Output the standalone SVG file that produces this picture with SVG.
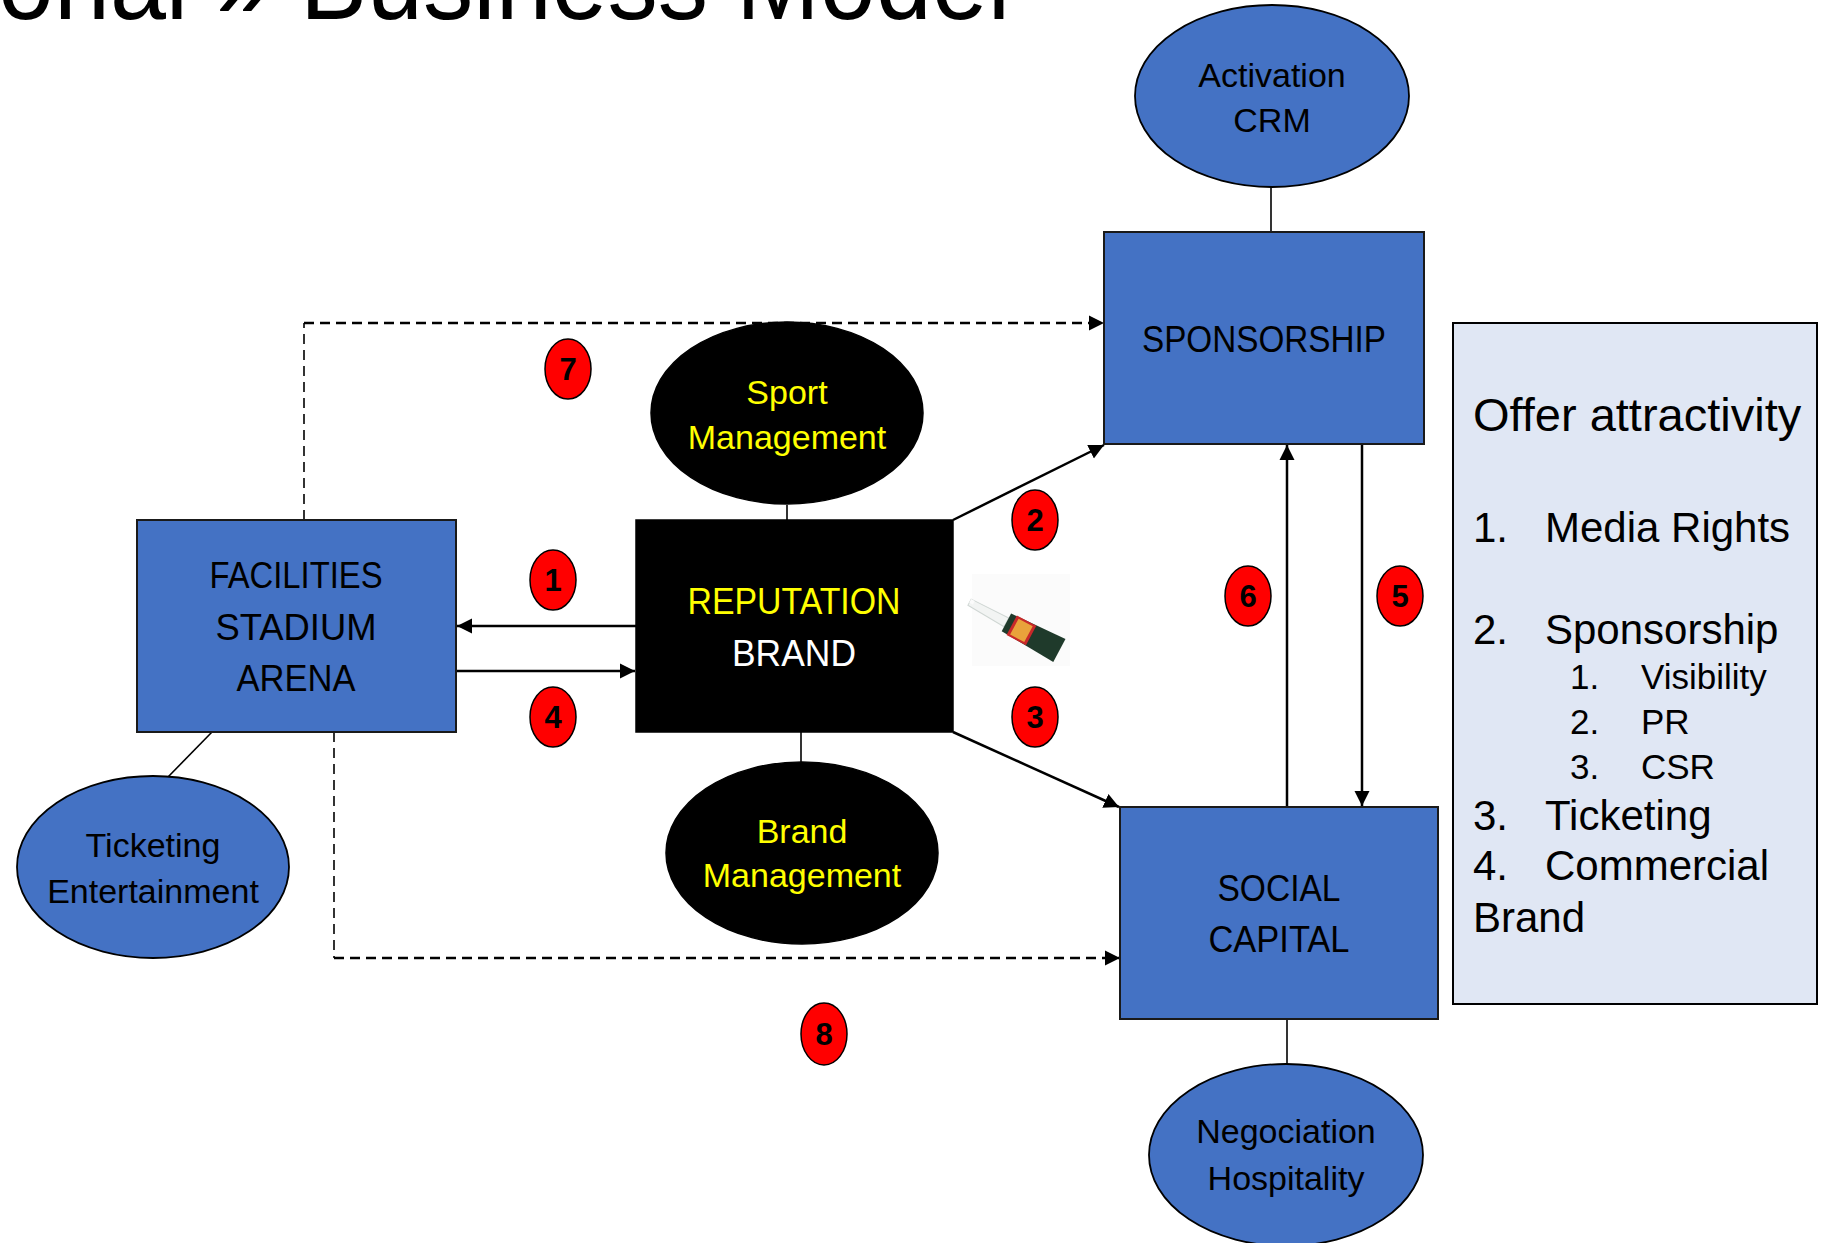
<svg xmlns="http://www.w3.org/2000/svg" width="1830" height="1243" viewBox="0 0 1830 1243">
<defs>
<marker id="ah" markerUnits="userSpaceOnUse" markerWidth="16" markerHeight="16" viewBox="0 0 16 16" refX="15" refY="8" orient="auto">
<path d="M0,0.5 L15,8 L0,15.5 z" fill="#000"/>
</marker>
</defs>
<style>
text{font-family:"Liberation Sans",Arial,sans-serif;}
.box{fill:#4472C4;stroke:#1a1a1a;stroke-width:2;}
.oval{fill:#4472C4;stroke:#000;stroke-width:1.8;}
.black{fill:#000;stroke:#000;stroke-width:1.5;}
.t34{font-size:34px;text-anchor:middle;fill:#000;}
.y34{font-size:34px;text-anchor:middle;fill:#FFFF00;}
.t36{font-size:36px;text-anchor:middle;fill:#000;}
.y36{font-size:36px;text-anchor:middle;fill:#FFFF00;}
.w36{font-size:36px;text-anchor:middle;fill:#FFFFFF;}
.badge ellipse{fill:#FF0000;stroke:#000;stroke-width:1.5;}
.badge text{font-size:31px;font-weight:bold;text-anchor:middle;fill:#000;}
.conn{stroke:#000;stroke-width:2.5;fill:none;}
.thin{stroke:#000;stroke-width:1.6;fill:none;}
.dash{stroke:#000;stroke-width:2.5;fill:none;stroke-dasharray:10 6;}
.dashv{stroke:#000;stroke-width:1.6;fill:none;stroke-dasharray:10 6;}
.lst{fill:#000;}
</style>
<rect width="1830" height="1243" fill="#fff"/>

<text x="-2" y="19" font-size="112" textLength="1012" lengthAdjust="spacingAndGlyphs" fill="#000">onal » Business Model</text>

<g id="connectors">
<line class="thin" x1="1271" y1="187" x2="1271" y2="232"/>
<line class="thin" x1="1287" y1="1019" x2="1287" y2="1064"/>
<line class="thin" x1="787" y1="505" x2="787" y2="520"/>
<line class="thin" x1="801" y1="732" x2="801" y2="762"/>
<line class="thin" x1="212" y1="732" x2="168" y2="777"/>
<line class="dashv" x1="304" y1="520" x2="304" y2="323"/>
<line class="dash" x1="304" y1="323" x2="1104" y2="323" marker-end="url(#ah)"/>
<line class="dashv" x1="334" y1="732" x2="334" y2="958"/>
<line class="dash" x1="334" y1="958" x2="1120" y2="958" marker-end="url(#ah)"/>
<line class="conn" x1="636" y1="626" x2="457" y2="626" marker-end="url(#ah)"/>
<line class="conn" x1="456" y1="671" x2="635" y2="671" marker-end="url(#ah)"/>
<line class="conn" x1="953" y1="520" x2="1104" y2="445" marker-end="url(#ah)"/>
<line class="conn" x1="953" y1="732" x2="1119" y2="807" marker-end="url(#ah)"/>
<line class="conn" x1="1362" y1="444" x2="1362" y2="806" marker-end="url(#ah)"/>
<line class="conn" x1="1287" y1="807" x2="1287" y2="445" marker-end="url(#ah)"/>
</g>

<g id="activation">
<ellipse class="oval" cx="1272" cy="96" rx="137" ry="91"/>
<text class="t34" x="1272" y="87">Activation</text>
<text class="t34" x="1272" y="132">CRM</text>
</g>

<g id="sponsorship">
<rect class="box" x="1104" y="232" width="320" height="212"/>
<text class="t36" x="1264" y="352" textLength="244" lengthAdjust="spacingAndGlyphs">SPONSORSHIP</text>
</g>

<g id="social-capital">
<rect class="box" x="1120" y="807" width="318" height="212"/>
<text class="t36" x="1279" y="901" textLength="123" lengthAdjust="spacingAndGlyphs">SOCIAL</text>
<text class="t36" x="1279" y="952" textLength="141" lengthAdjust="spacingAndGlyphs">CAPITAL</text>
</g>

<g id="negociation">
<ellipse class="oval" cx="1286" cy="1155" rx="137" ry="91"/>
<text class="t34" x="1286" y="1143">Negociation</text>
<text class="t34" x="1286" y="1190">Hospitality</text>
</g>

<g id="facilities">
<rect class="box" x="137" y="520" width="319" height="212"/>
<text class="t36" x="296" y="588" textLength="173" lengthAdjust="spacingAndGlyphs">FACILITIES</text>
<text class="t36" x="296" y="640" textLength="161" lengthAdjust="spacingAndGlyphs">STADIUM</text>
<text class="t36" x="296" y="691" textLength="119" lengthAdjust="spacingAndGlyphs">ARENA</text>
</g>

<g id="ticketing">
<ellipse class="oval" cx="153" cy="867" rx="136" ry="91"/>
<text class="t34" x="153" y="857">Ticketing</text>
<text class="t34" x="153" y="903">Entertainment</text>
</g>

<g id="reputation">
<rect class="black" x="636" y="520" width="317" height="212"/>
<text class="y36" x="794" y="614" textLength="213" lengthAdjust="spacingAndGlyphs">REPUTATION</text>
<text class="w36" x="794" y="666" textLength="124" lengthAdjust="spacingAndGlyphs">BRAND</text>
</g>

<g id="sport-management">
<ellipse class="black" cx="787" cy="413" rx="136" ry="91"/>
<text class="y34" x="787" y="404">Sport</text>
<text class="y34" x="787" y="449">Management</text>
</g>

<g id="brand-management">
<ellipse class="black" cx="802" cy="853" rx="136" ry="91"/>
<text class="y34" x="802" y="843">Brand</text>
<text class="y34" x="802" y="887">Management</text>
</g>

<g id="glue">
<rect x="972" y="574" width="98" height="92" fill="#fbfbfb"/>
<g transform="translate(1017,628) rotate(28)">
<polygon points="-54,-4 -12,-5 -12,5 -54,3" fill="#f2f4f3" stroke="#cfd6d3" stroke-width="1"/>
<polygon points="-54,-4 -50,-4 -50,0 -54,0" fill="#fbfbfb"/>
<polygon points="-12,-10 48,-13 48,13 -12,10" fill="#1f3a2b"/>
<rect x="-6" y="-11" width="22" height="22" fill="#c8282a"/>
<rect x="-3" y="-9" width="16" height="18" fill="#e9a23b"/>
</g>
</g>

<g id="offer">
<rect x="1453" y="323" width="364" height="681" fill="#E0E7F4" stroke="#000" stroke-width="2"/>
<text class="lst" x="1473" y="431" font-size="47">Offer attractivity</text>
<text class="lst" x="1473" y="542" font-size="42">1.</text>
<text class="lst" x="1545" y="542" font-size="42">Media Rights</text>
<text class="lst" x="1473" y="644" font-size="42">2.</text>
<text class="lst" x="1545" y="644" font-size="42">Sponsorship</text>
<text class="lst" x="1570" y="689" font-size="35">1.</text>
<text class="lst" x="1641" y="689" font-size="35">Visibility</text>
<text class="lst" x="1570" y="734" font-size="35">2.</text>
<text class="lst" x="1641" y="734" font-size="35">PR</text>
<text class="lst" x="1570" y="779" font-size="35">3.</text>
<text class="lst" x="1641" y="779" font-size="35">CSR</text>
<text class="lst" x="1473" y="830" font-size="42">3.</text>
<text class="lst" x="1545" y="830" font-size="42">Ticketing</text>
<text class="lst" x="1473" y="880" font-size="42">4.</text>
<text class="lst" x="1545" y="880" font-size="42">Commercial</text>
<text class="lst" x="1473" y="932" font-size="42">Brand</text>
</g>

<g id="badge-1" class="badge"><ellipse cx="553" cy="580" rx="23" ry="30"/><text x="553" y="591">1</text></g>
<g id="badge-2" class="badge"><ellipse cx="1035" cy="520" rx="23" ry="30"/><text x="1035" y="531">2</text></g>
<g id="badge-3" class="badge"><ellipse cx="1035" cy="717" rx="23" ry="30"/><text x="1035" y="728">3</text></g>
<g id="badge-4" class="badge"><ellipse cx="553" cy="717" rx="23" ry="30"/><text x="553" y="728">4</text></g>
<g id="badge-5" class="badge"><ellipse cx="1400" cy="596" rx="23" ry="30"/><text x="1400" y="607">5</text></g>
<g id="badge-6" class="badge"><ellipse cx="1248" cy="596" rx="23" ry="30"/><text x="1248" y="607">6</text></g>
<g id="badge-7" class="badge"><ellipse cx="568" cy="369" rx="23" ry="30"/><text x="568" y="380">7</text></g>
<g id="badge-8" class="badge"><ellipse cx="824" cy="1034" rx="23" ry="31"/><text x="824" y="1045">8</text></g>
</svg>
